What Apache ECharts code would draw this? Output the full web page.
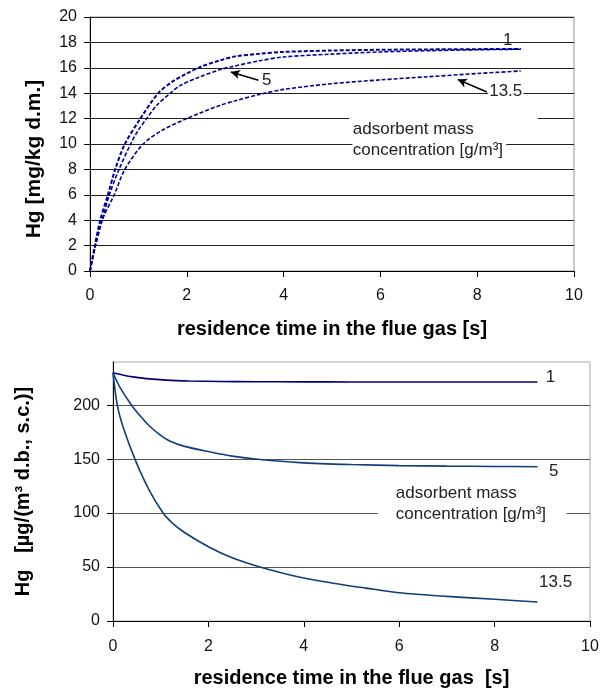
<!DOCTYPE html>
<html>
<head>
<meta charset="utf-8">
<script src="https://cdn.jsdelivr.net/npm/echarts@6/dist/echarts.min.js"></script>
<style>
html,body{margin:0;padding:0;background:#fff;}
#chart{width:600px;height:688px;}
</style>
</head>
<body>
<div id="chart"></div>
<script>
// ---------- DATA ----------
// Top chart: Hg in adsorbent [mg/kg d.m.] vs residence time [s]
const topTime1 = [0, 0.1, 0.21, 0.37, 0.52, 0.72, 1.04, 1.41, 1.7, 2.0, 2.3, 2.7, 3.0, 3.5, 4, 5, 6, 7, 8, 8.9];
const topHg1   = [0, 2.0, 4.0, 6.0, 8.0, 10.0, 12.0, 14.0, 14.9, 15.55, 16.1, 16.6, 16.9, 17.1, 17.25, 17.36, 17.42, 17.45, 17.47, 17.48];
const topTime5 = [0, 0.1, 0.25, 0.4, 0.6, 0.84, 1.0, 1.17, 1.38, 1.66, 1.86, 2.28, 2.69, 2.9, 3.5, 4, 5, 6, 7, 8, 8.9];
const topHg5   = [0, 1.8, 4.0, 6.0, 8.0, 10.0, 11.1, 12.0, 13.05, 14.0, 14.6, 15.3, 15.86, 16.06, 16.55, 16.85, 17.08, 17.25, 17.35, 17.42, 17.46];
const topTime135 = [0, 0.1, 0.25, 0.5, 0.72, 1.1, 1.5, 2.0, 2.69, 3.0, 3.5, 4, 5, 6, 7, 8, 8.9];
const topHg135   = [0, 1.8, 4.0, 6.0, 8.0, 10.0, 11.1, 12.0, 13.05, 13.4, 13.9, 14.3, 14.75, 15.05, 15.3, 15.55, 15.75];

// Bottom chart: Hg in flue gas [µg/(m³ d.b., s.c.)] vs residence time [s]
const botTime1 = [0, 0.2, 0.42, 0.7, 1.12, 1.6, 2.24, 3, 4, 5, 6, 7, 8, 8.9];
const botHg1   = [230, 228, 226.2, 224.6, 223.2, 222.4, 221.9, 221.7, 221.6, 221.5, 221.5, 221.5, 221.5, 221.5];
const botTime5 = [0, 0.14, 0.39, 0.6, 0.77, 1.0, 1.2, 1.5, 2.0, 2.5, 3.08, 3.92, 5, 6, 7, 8, 8.9];
const botHg5   = [230, 217, 200, 188.5, 180.5, 172, 166.5, 161.8, 157, 152.8, 149.7, 146.8, 145, 144, 143.5, 143.2, 143];
const botTime135 = [0, 0.09, 0.21, 0.46, 0.75, 1.05, 1.25, 1.5, 2.0, 2.5, 3.08, 3.92, 4.62, 5.3, 6, 7, 8, 8.9];
const botHg135   = [230, 200, 180, 150, 122, 100, 90.5, 82, 68.8, 58.5, 50, 40.5, 35, 30.5, 26.2, 22.8, 20.1, 17.6];

const seriesNames = ['1', '5', '13.5'];
const bottomYTicks = [0, 50, 100, 150, 200];
const noteText = 'adsorbent mass\nconcentration [g/m³]';

// ---------- CHART ----------
const zip = (a, b) => a.map((x, i) => [x, b[i]]);
const FONT = '"Liberation Sans", Arial, sans-serif';
const chart = echarts.init(document.getElementById('chart'), null, {renderer: 'canvas'});

const SMOOTH = 0.3;
const dashed = {color: '#000099', width: 1.6, type: [4, 2]};
const arrowML = (from, to) => ({
  silent: true, symbol: ['none', 'arrow'], symbolSize: [7, 9],
  lineStyle: {color: '#000', width: 1.6, type: 'solid'},
  label: {show: false}, emphasis: {disabled: true},
  data: [[{coord: from}, {coord: to}]]
});

const axisCommon = {
  axisLine: {show: true, lineStyle: {color: '#000', width: 1}},
  axisTick: {show: true, length: 6, lineStyle: {color: '#000'}},
  axisLabel: {color: '#111', fontFamily: FONT, fontSize: 16},
  nameTextStyle: {color: '#000', fontFamily: FONT, fontSize: 20, fontWeight: 'bold'},
  nameLocation: 'middle',
  nameMoveOverlap: false
};

const option = {
  backgroundColor: '#fff',
  animation: false,
  grid: [
    {left: 90, right: 26, top: 17, height: 254, show: true, borderColor: '#999', borderWidth: 1, backgroundColor: 'transparent', outerBoundsMode: 'none'},
    {left: 113, right: 10, top: 362, height: 259, show: true, borderColor: '#aaa', borderWidth: 1, backgroundColor: 'transparent', outerBoundsMode: 'none'}
  ],
  xAxis: [
    Object.assign({}, axisCommon, {
      type: 'value', gridIndex: 0, min: 0, max: 10, interval: 2,
      splitLine: {show: false},
      axisLabel: Object.assign({}, axisCommon.axisLabel, {margin: 17}),
      name: 'residence time in the flue gas [s]', nameGap: 48
    }),
    Object.assign({}, axisCommon, {
      type: 'value', gridIndex: 1, min: 0, max: 10, interval: 2,
      splitLine: {show: false},
      axisLabel: Object.assign({}, axisCommon.axisLabel, {margin: 18}),
      name: 'residence time in the flue gas  [s]', nameGap: 47
    })
  ],
  yAxis: [
    Object.assign({}, axisCommon, {
      type: 'value', gridIndex: 0, min: 0, max: 20, interval: 2,
      splitLine: {show: true, lineStyle: {color: '#222', width: 1}},
      axisLabel: Object.assign({}, axisCommon.axisLabel, {margin: 13}),
      name: 'Hg [mg/kg d.m.]', nameGap: 45,
      nameTextStyle: Object.assign({}, axisCommon.nameTextStyle, {fontSize: 21, padding: [0, 30, 0, 0]})
    }),
    Object.assign({}, axisCommon, {
      type: 'value', gridIndex: 1, min: 0, max: 240, interval: 50,
      splitLine: {show: true, lineStyle: {color: ['#555', '#555', '#555', '#555', '#555', '#aaa'], width: 1}},
      axisTick: Object.assign({}, axisCommon.axisTick, {customValues: bottomYTicks}),
      axisLabel: Object.assign({}, axisCommon.axisLabel, {margin: 13, customValues: bottomYTicks}),
      name: 'Hg   [µg/(m³ d.b., s.c.)]', nameGap: 80
    })
  ],
  series: [
    {name: seriesNames[0], type: 'line', xAxisIndex: 0, yAxisIndex: 0, data: zip(topTime1, topHg1),
      showSymbol: false, smooth: SMOOTH, lineStyle: Object.assign({}, dashed, {width: 2}), z: 4},
    {name: seriesNames[1], type: 'line', xAxisIndex: 0, yAxisIndex: 0, data: zip(topTime5, topHg5),
      showSymbol: false, smooth: SMOOTH, lineStyle: dashed, z: 3,
      markLine: arrowML([3.48, 15.02], [2.91, 15.67])},
    {name: seriesNames[2], type: 'line', xAxisIndex: 0, yAxisIndex: 0, data: zip(topTime135, topHg135),
      showSymbol: false, smooth: SMOOTH, lineStyle: dashed, z: 3,
      markLine: arrowML([8.2, 14.1], [7.6, 15.07])},
    {name: seriesNames[0], type: 'line', xAxisIndex: 1, yAxisIndex: 1, data: zip(botTime1, botHg1),
      showSymbol: false, smooth: SMOOTH, lineStyle: {color: '#00007f', width: 1.6}, z: 3},
    {name: seriesNames[1], type: 'line', xAxisIndex: 1, yAxisIndex: 1, data: zip(botTime5, botHg5),
      showSymbol: false, smooth: SMOOTH, lineStyle: {color: '#0d3f7a', width: 1.6}, z: 3},
    {name: seriesNames[2], type: 'line', xAxisIndex: 1, yAxisIndex: 1, data: zip(botTime135, botHg135),
      showSymbol: false, smooth: SMOOTH, lineStyle: {color: '#0d3f7a', width: 1.6}, z: 3}
  ]
};
chart.setOption(option);

// ---------- ANNOTATIONS (placed in data coordinates) ----------
function px(g, pt) { return chart.convertToPixel({gridIndex: g}, pt); }
function label(g, pt, text, bg) {
  const p = px(g, pt);
  return {type: 'text', z: 100, x: p[0], y: p[1], style: {
    text: text, font: '17px ' + FONT, fill: '#222', align: 'center', verticalAlign: 'middle',
    backgroundColor: bg ? '#fff' : null, padding: bg ? [0, 1] : 0}};
}
function rectBetween(g, a, b) {
  const p = px(g, a), q = px(g, b);
  return {type: 'rect', z: 90, shape: {x: Math.min(p[0], q[0]), y: Math.min(p[1], q[1]),
    width: Math.abs(q[0] - p[0]), height: Math.abs(q[1] - p[1])}, style: {fill: '#fff'}};
}
function note(g, pt) {
  const p = px(g, pt);
  return {type: 'text', z: 100, x: p[0], y: p[1], style: {
    text: noteText, font: '17px ' + FONT, fill: '#222', align: 'left', verticalAlign: 'top', lineHeight: 21}};
}
const graphics = [
  // top chart
  label(0, [8.63, 18.13], '1'),
  label(0, [3.65, 15.04], '5'),
  label(0, [8.59, 14.15], '13.5', true),
  rectBetween(0, [5.36, 12.35], [9.25, 10.4]),
  rectBetween(0, [5.42, 10.4], [8.6, 9.3]),
  note(0, [5.43, 12.0]),
  // bottom chart
  label(1, [9.17, 225.5], '1'),
  label(1, [9.24, 138.4], '5'),
  label(1, [9.28, 35.6], '13.5'),
  rectBetween(1, [5.55, 126.9], [9.51, 90.7]),
  note(1, [5.93, 128.5])
];
chart.setOption({graphic: graphics});
</script>
</body>
</html>
